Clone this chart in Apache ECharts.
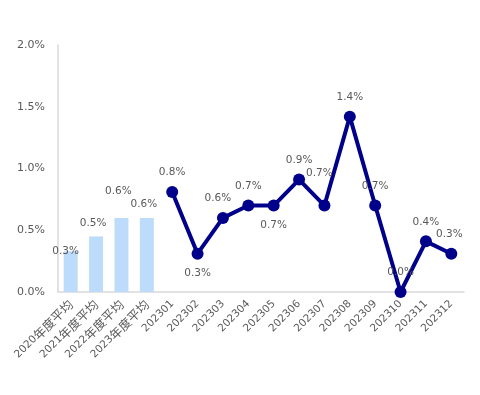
<!DOCTYPE html>
<html><head><meta charset="utf-8">
<script src="https://cdn.jsdelivr.net/npm/echarts@6/dist/echarts.min.js"></script>
<style>html,body{margin:0;padding:0;background:#fff}#c{width:480px;height:395px}</style>
</head><body><div id="c"></div>
<script>
var categories = ['2020年度平均','2021年度平均','2022年度平均','2023年度平均','202301','202302','202303','202304','202305','202306','202307','202308','202309','202310','202311','202312'];
var barValues = [0.33, 0.45, 0.60, 0.60];
var lineValues = [0.81, 0.31, 0.60, 0.70, 0.70, 0.91, 0.70, 1.42, 0.70, 0.00, 0.41, 0.31];
var yTicks = [0, 0.5, 1.0, 1.5, 2.0];

// label offsets (style only)
var barLabelOffsets = [[-5, 14], [-3, 0], [-3, -13], [-3, 0]];
var lineLabelOffsets = [[0,0],[0,0],[-5,0],[0,0],[0,0],[0,0],[-5,-13],[0,0],[0,0],[0,0],[0,0],[-2,0]];
var lineLabelPos = ['top','bottom','top','top','bottom','top','top','top','top','top','top','top'];

var textColor = '#595959';
var font = 'DejaVu Sans';

var barData = categories.map(function(c, i){
  if (i < barValues.length) {
    return {value: barValues[i], label: {offset: barLabelOffsets[i]}};
  }
  return '-';
});
var lineData = categories.map(function(c, i){
  var j = i - barValues.length;
  if (j >= 0) {
    return {value: lineValues[j], label: {position: lineLabelPos[j], offset: lineLabelOffsets[j]}};
  }
  return '-';
});

var chart = echarts.init(document.getElementById('c'), null, {renderer: 'canvas'});
chart.setOption({
  animation: false,
  textStyle: {fontFamily: font},
  grid: {left: 58, right: 16, top: 45, bottom: 103, containLabel: false},
  xAxis: {
    type: 'category',
    data: categories,
    axisLine: {show: true, lineStyle: {color: '#d9d9d9', width: 1.5}},
    axisTick: {show: false},
    axisLabel: {rotate: 45, color: textColor, fontSize: 10.5, fontFamily: font, interval: 0, margin: 10,
      formatter: function(v){
        var m = v.match(/^(\d+)(.*)$/);
        return m[2] ? '{d|' + m[1] + '}{c|' + m[2] + '}' : '{d|' + v + '}';
      },
      rich: {
        d: {fontSize: 10.5, fontFamily: font, color: textColor},
        c: {fontSize: 12.5, fontFamily: 'Noto Sans CJK SC', color: textColor}
      }
    }
  },
  yAxis: {
    type: 'value',
    min: yTicks[0], max: yTicks[yTicks.length-1], interval: 0.5,
    axisLine: {show: true, lineStyle: {color: '#d9d9d9', width: 1.5}},
    axisTick: {show: false},
    splitLine: {show: false},
    axisLabel: {color: textColor, fontSize: 11, fontFamily: font, margin: 13,
      formatter: function(v){ return v.toFixed(1) + '%'; }}
  },
  series: [
    {
      type: 'bar',
      data: barData,
      barWidth: 14,
      itemStyle: {color: '#BDDCFB'},
      label: {show: true, position: 'top', distance: 8, color: textColor, fontSize: 10.5, fontFamily: font,
        formatter: function(p){ return p.value.toFixed(1) + '%'; }}
    },
    {
      type: 'line',
      data: lineData,
      connectNulls: false,
      symbol: 'circle',
      symbolSize: 12,
      lineStyle: {color: '#00008B', width: 4},
      itemStyle: {color: '#00008B'},
      label: {show: true, distance: 8, color: textColor, fontSize: 10.5, fontFamily: font,
        formatter: function(p){ return p.value.toFixed(1) + '%'; }}
    }
  ]
});
</script></body></html>
